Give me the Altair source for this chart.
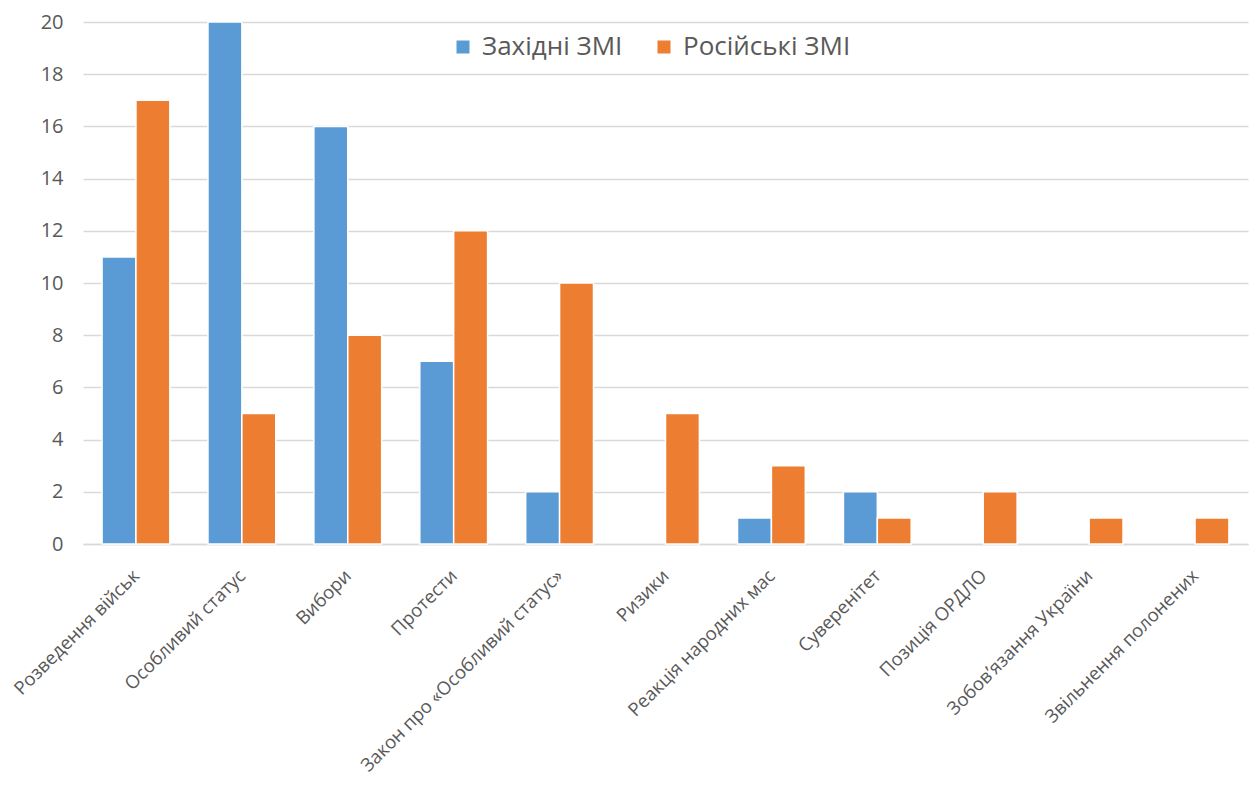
import altair as alt
import pandas as pd

categories = ["Розведення військ", "Особливий статус", "Вибори", "Протести",
              "Закон про «Особливий статус»", "Ризики", "Реакція народних мас",
              "Суверенітет", "Позиція ОРДЛО", "Зобов’язання України",
              "Звільнення полонених"]
series = ["Західні ЗМІ", "Російські ЗМІ"]
western = [11, 20, 16, 7, 2, 0, 1, 2, 0, 0, 0]
russian = [17, 5, 8, 12, 10, 5, 3, 1, 2, 1, 1]
colors = ["#5B9BD5", "#ED7D31"]
y_ticks = [0, 2, 4, 6, 8, 10, 12, 14, 16, 18, 20]

rows = []
for c, w, r in zip(categories, western, russian):
    rows.append({"cat": c, "series": series[0], "value": w})
    rows.append({"cat": c, "series": series[1], "value": r})
df = pd.DataFrame(rows)

FONT = "Open Sans"
GRAY = "#595959"

chart = alt.Chart(df).transform_filter("datum.value > 0").mark_bar(
    stroke="white", strokeWidth=1.5
).encode(
    x=alt.X("cat:N", sort=categories, title=None,
            scale=alt.Scale(domain=categories, paddingInner=0.36, paddingOuter=0.18),
            axis=alt.Axis(labelAngle=-45, labelFontSize=18.5, labelColor=GRAY,
                          labelFont=FONT, ticks=False, domainColor="#D9D9D9",
                          domainWidth=1.5, labelPadding=22, labelOffset=-6,
                          labelLimit=0)),
    xOffset=alt.XOffset("series:N", sort=series,
                        scale=alt.Scale(domain=series, paddingInner=0.0)),
    y=alt.Y("value:Q", title=None,
            scale=alt.Scale(domain=[0, 20]),
            axis=alt.Axis(values=y_ticks, labelFontSize=20, labelColor=GRAY,
                          labelFont=FONT, ticks=False, domain=False,
                          gridColor="#D9D9D9", gridWidth=1.5, labelPadding=20)),
    color=alt.Color("series:N", sort=series,
                    scale=alt.Scale(domain=series, range=colors),
                    legend=alt.Legend(title=None, orient="none", direction="horizontal",
                                      legendX=367, legendY=12, symbolType="square",
                                      symbolSize=169, symbolStrokeWidth=0,
                                      labelFontSize=26, labelColor=GRAY, labelFont=FONT,
                                      labelOffset=6, columnPadding=28, labelLimit=0)),
).properties(
    width=1165, height=522,
    autosize=alt.AutoSizeParams(type="none"),
    padding={"left": 75, "top": 14, "right": 3, "bottom": 235},
).configure_view(stroke=None)

chart.save("out.html", embed_options={"renderer": "svg", "actions": False})
